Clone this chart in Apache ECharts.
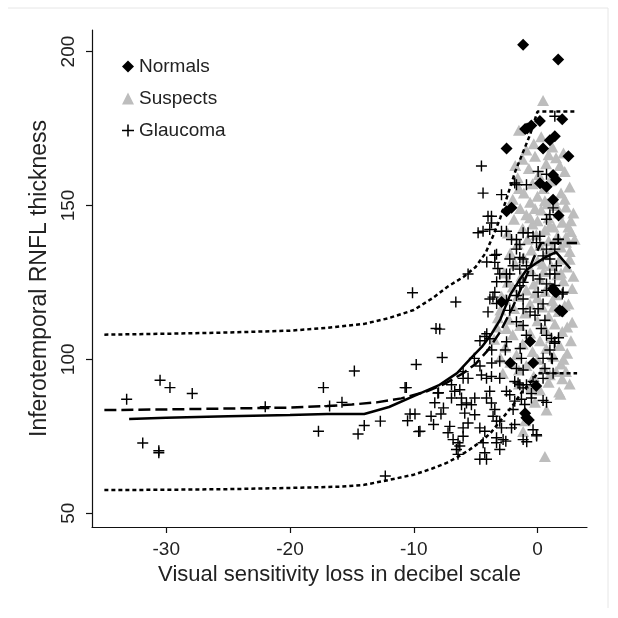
<!DOCTYPE html>
<html>
<head>
<meta charset="utf-8">
<script src="https://cdn.jsdelivr.net/npm/echarts@6/dist/echarts.min.js"></script>
<style>
html,body{margin:0;padding:0;background:#fff;}
#chart{width:618px;height:618px;}
</style>
</head>
<body>
<div id="chart"></div>
<script>
// ---- tick values ----
var xTicks = [-30, -20, -10, 0];
var yTicks = [50, 100, 150, 200];

// ---- Normals (black diamonds) ----
var normals = [[-1.16,202.2],[1.67,197.4],[2.0,178],[0.19,177.4],[-0.84,175],[-0.5,176],[-1.0,174.8],[1.4,172.5],[1.0,171.2],[-2.5,168.5],[0.45,168.5],[2.5,166],[1.26,159.9],[1.5,158.3],[0.2,157.2],[0.73,156.1],[1.26,151.8],[-2.1,149.2],[-2.5,148.1],[1.7,146.7],[-2.9,118.6],[1.8,115.9],[1.5,121.8],[1.25,122.9],[-0.6,105.8],[-2.2,98.8],[-0.35,98.8],[-0.1,91.3],[-0.9,81],[-1.0,82.5],[-0.7,80.3],[2.0,115.5],[1.4,122]];

// ---- Suspects (grey triangles) ----
var suspects = [[0.45,184.1],[-1.5,174.4],[0.3,172.3],[1.2,169],[-0.2,166],[1.5,165.5],[-1.2,165],[0.7,163.5],[-0.7,162],[2.2,161],[0.1,160],[-1.6,159],[1.0,158],[-0.4,157],[0.5,155.5],[-1.1,154],[1.9,154],[0.0,153],[-2.0,152],[1.3,152],[-0.6,151],[0.8,150.5],[2.3,149.5],[-1.4,149],[0.3,148.5],[1.7,147.5],[-0.9,147],[0.9,146],[-1.9,145.5],[0.0,145],[2.0,144.5],[-0.4,144],[1.3,143],[-1.2,142.5],[0.6,142],[2.7,141.5],[-2.4,141],[-0.1,140.5],[1.6,140],[-0.8,139],[0.9,138.5],[2.3,138],[-1.6,137.5],[0.2,137],[1.2,136],[-0.5,135.5],[2.6,135],[-2.2,134.5],[0.7,134],[-1.1,133],[1.8,132.5],[0.0,132],[-1.8,131],[1.1,130.5],[2.4,130],[-0.6,129.5],[0.5,128.5],[-2.7,128],[1.6,127.5],[-1.3,127],[0.2,126],[2.1,125.5],[-0.3,124.5],[1.0,124],[-2.0,123.5],[-0.9,122.5],[0.6,122],[2.8,123],[1.5,121],[-1.6,120.5],[0.0,120],[-2.6,119.5],[1.2,119],[-0.6,118],[2.2,117.5],[0.4,117],[-1.9,116.5],[-3.0,116],[1.7,115.5],[-1.0,115],[0.9,114],[2.8,112],[-2.3,113],[0.0,112.5],[1.4,111.5],[-1.4,111],[-3.3,110.5],[0.6,110],[2.0,109],[-0.6,108.5],[-2.0,108],[1.1,107],[-3.5,106.5],[0.2,106],[-1.2,105],[1.8,104.5],[-2.6,104],[0.7,103.5],[-0.4,102.5],[2.4,102],[-1.7,101.5],[1.3,101],[-3.0,100.5],[0.0,100],[-2.2,99],[1.9,98.5],[-0.9,98],[0.5,97],[-1.5,96.5],[2.3,96],[-2.8,95.5],[1.0,95],[-0.3,94.5],[1.85,88.6],[2.0,93.7],[0.2,90],[1.75,89.4],[0.73,83.5],[-1.16,76.5],[0.6,68.4],[2.7,145],[2.3,139.7],[-1.5,92],[-0.5,91],[0.9,92.5],[-1.0,80],[-0.2,86],[1.3,117],[2.5,118],[-2.4,125],[-2.9,120.5],
[2.9,127],[2.6,132.5],[3.0,139],[2.5,143],[2.9,147.5],[2.2,152],[2.6,156],[1.8,163],[2.1,167],[-0.3,170],[0.9,166.5],[-1.8,163],[-0.9,168],[1.5,150],[-0.2,149],[-1.5,155.5],[0.6,151.5],[2.4,110.5],[2.7,106],[2.1,100],[2.6,92],[1.5,96],[-2.5,110],[-3.2,113.5],[1.0,143.5],[-0.6,146],[1.9,136.5],[0.4,131],[-0.2,121.5],[1.9,128]];

// ---- Glaucoma (crosses) ----
var glaucoma = [[-33.2,87],[-30.5,93.2],[-29.7,90.8],[-27.9,88.9],[-31.9,72.8],[-30.6,70.3],[-30.6,69.6],[-17.3,90.8],[-14.8,96.2],[-17.7,76.6],[-15.8,86],[-16.8,84.8],[-14.0,78.5],[-14.5,75.7],[-12.7,79.9],[-12.3,62.1],[-22.0,84.6],[-10.1,121.6],[-9.8,98.3],[-10.6,90.8],[-10.3,82.2],[-9.9,82.2],[-10.5,80],[-9.6,76.5],[-8.6,81.5],[-8.4,78.8],[-8.2,110],[-6.6,118.6],[-7.9,109.8],[-7.7,100.6],[-5.61,127.7],[-4.53,162.8],[-4.4,154],
[-4.0,115.4],[-3.45,121.8],[-3.85,119.6],[-4.25,107.4],[-4.1,108.3],[-3.85,106.7],[-4.65,106],[-5.1,100.3],[-4.65,97.8],[-3.7,98.8],[-3.05,99.4],[-2.5,105.7],[-3.7,103],[-2.6,103],[-1.7,112.2],[-1.16,111],[-0.9,107.8],[-1.4,103.5],[-1.3,100.3],[-1.7,97],[-1.16,96.5],[-0.6,115.4],[-0.2,114.3],[0.05,116.4],[0.45,118],[0.6,112.7],[0.3,110],[0.73,107.8],[1.13,106.8],[1.4,105.7],[1.0,103],[0.45,100.3],[1.13,100.3],[0.6,97],[1.26,95.5],[0.05,121.8],[0.73,122.4],[2.07,121.8],[1.4,124],[-1.7,120.7],[-1.16,119.6],[-2.24,115.9],[-1.16,116.4],
[-10.7,90.8],[-9.5,76.6],[-7.8,82.2],[-8.3,85.9],[-8.0,89.1],[-7.6,84.2],[-7.09,78.2],[-7.23,76.1],[-6.82,73.9],[-6.42,72.9],[-6.55,70.7],[-6.42,69.1],[-6.28,71.8],[-6.95,87.4],[-6.69,89.6],[-6.28,90.1],[-6.14,87.4],[-6.14,85.2],[-5.74,85.8],[-5.88,82.5],[-5.34,85.2],[-5.07,87.4],[-5.07,82.0],[-5.61,79.3],[-6.01,77.7],[-6.01,75],[-4.66,77.7],[-4.26,76.6],[-4.12,87.4],[-3.86,89.6],[-3.72,85.8],[-3.45,83.7],[-3.59,81.5],[-3.31,79.9],[-3.05,79.9],[-2.91,77.7],[-3.31,74.5],[-3.31,72.9],[-2.78,73.9],[-2.56,73.4],[-3.05,70.7],[-4.39,72.9],[-4.26,69.6],[-4.12,67.5],[-4.66,67.5],[-2.51,89.6],[-2.24,88.5],[-1.84,86.4],[-1.57,92.3],[-1.16,90.7],[-1.3,87.0],[-1.03,85.3],[-0.49,88.9],[-0.49,87.4],[-1.84,78.8],[-2.1,77.7],[-1.16,73.9],[-1.97,83.7],[0.45,86.6],[-0.36,77.1],[-0.08,75.5],[-8.05,89],[-6.95,91.7],[-6.01,93.8],[-5.61,93.8],[-6.01,96],[-4.53,94.9],[-4.12,93.8],[-3.72,94.4],[-3.05,93.8],[-1.84,92.8],[-1.43,91.7],[-0.89,91.7],[-0.36,92.8],[0.45,93.8],
[-2.91,153.5],[-1.7,156.7],[-0.89,156.7],[0.05,161],[-3.72,146.5],[-3.72,144.3],[-3.86,142.2],[-4.4,141.6],[-4.8,141.1],[-2.91,141.6],[-2.51,141.6],[-2.1,138.9],[-1.7,138.9],[-1.43,137.3],[-1.16,141.1],[-0.76,141.1],[-0.36,140],[0.19,140],[-0.08,137.9],[0.73,145.5],[1.0,147],[1.26,149.2],[1.67,138.9],[1.4,135.8],[0.73,135.8],[0.45,133.6],[1.0,132.6],[-1.7,135.8],[-1.43,133.1],[-1.16,132.6],[-2.24,132.6],[-1.97,130.4],[-2.51,127.7],[-2.24,127.7],[-1.43,129.3],[-0.89,130.4],[-0.36,127.2],[0.19,126.1],[1.0,127.7],[1.4,127.7],[1.53,130.4],[-1.16,125],[-1.43,123.9],[-3.31,134.1],[-3.45,131.5],[1.4,179],[-1.84,157.3],[-4.0,146.5],
[0.73,160.1],[1.69,139],[0.73,124.5],[2.0,121.2],[1.37,105.2],[1.7,107],[1.2,100.2],[0.73,86],[-0.07,75.1],[-0.87,73.2],
[-4.1,131.6],[-3.45,133.8],[-3.2,129.5],[-3.05,127.7],[-3.3,125.2],[-2.5,125.2],[-3.6,120.2],[-3.3,118.1],[-2.5,119.2]];

// ---- fitted curves ----
var upperBand = [[-35,108],[-30,108.3],[-25,108.7],[-20,109.3],[-17,110.2],[-14,111.5],[-12,113.4],[-10,116],[-8.5,119.8],[-7.3,123.5],[-6,126.7],[-5,130],[-4.2,134.5],[-3.6,140],[-3,146],[-2.4,153.5],[-1.8,161],[-1.2,167],[-0.6,173],[-0.2,178],[0,180.5],[3.2,180.5]];
var lowerBand = [[-35,57.5],[-30,57.6],[-25,57.8],[-20,58.2],[-16,58.6],[-14,59.2],[-12,60.8],[-10,62.5],[-8.5,64.5],[-7.3,66.4],[-6.3,68.6],[-5.5,70.6],[-4.6,73.2],[-3.8,76],[-2.8,81],[-2,85],[-1.2,89.7],[-0.4,93.2],[0,95.5],[3.2,95.5]];
var dashedFit = [[-35,83.5],[-30,83.7],[-25,84],[-20,84.3],[-17,84.8],[-15,85.3],[-13,86],[-11,87.3],[-9,89.5],[-7.5,92],[-6,95.5],[-5,98.5],[-4,103],[-3,109],[-2,117],[-1,126],[-0.3,133],[0.3,137.8],[3.2,137.8]];
var solidFit = [[-33,80.6],[-30,81],[-25,81.5],[-20,81.9],[-17,82.2],[-14,82.2],[-12,84.5],[-10,88],[-8,91.5],[-6.5,95.5],[-5.3,100.7],[-4.5,104],[-3.8,107.7],[-3,113],[-2.2,121],[-1.5,125.5],[-0.9,129],[0,131.5],[0.7,133.3],[1.5,134.8],[2.65,129.5]];

var FONT = '"Liberation Sans", Arial, sans-serif';
var TXT = '#222';
var AX = '#111';
var crossPath = 'path://M4.35,0h1.3v10h-1.3z M0,4.35h10v1.3h-10z';

var chart = echarts.init(document.getElementById('chart'));
chart.setOption({
  animation: false,
  backgroundColor: '#fff',
  textStyle: {fontFamily: FONT},
  graphic: [{
    type: 'polyline', silent: true,
    shape: {points: [[8,8],[608,8],[608,608]]},
    style: {stroke: '#e6e6e6', lineWidth: 1, fill: null}
  }],
  legend: {
    orient: 'vertical', left: 117, top: 52,
    itemWidth: 12, itemHeight: 12, itemGap: 13,
    textStyle: {fontSize: 19, color: TXT, fontFamily: FONT},
    data: [
      {name: 'Normals', icon: 'diamond', itemStyle: {color: '#000'}},
      {name: 'Suspects', icon: 'triangle', itemStyle: {color: '#bdbdbd'}},
      {name: 'Glaucoma', icon: crossPath, itemStyle: {color: '#000'}}
    ]
  },
  grid: {left: 92, top: 30, width: 495, height: 497},
  xAxis: {
    type: 'value', min: -36, max: 4,
    axisLine: {show: true, onZero: false, lineStyle: {color: AX, width: 1.2}},
    axisTick: {show: true, customValues: xTicks, length: 6, lineStyle: {color: AX, width: 1.2}},
    axisLabel: {customValues: xTicks, fontSize: 19, color: TXT, margin: 13, fontFamily: FONT},
    splitLine: {show: false},
    name: 'Visual sensitivity loss in decibel scale',
    nameLocation: 'middle', nameGap: 35,
    nameTextStyle: {fontSize: 22, color: TXT, fontFamily: FONT}
  },
  yAxis: {
    type: 'value', min: 45.5, max: 207,
    axisLine: {show: true, onZero: false, lineStyle: {color: AX, width: 1.2}},
    axisTick: {show: true, customValues: yTicks, length: 6, lineStyle: {color: AX, width: 1.2}},
    axisLabel: {customValues: yTicks, rotate: 90, fontSize: 19, color: TXT, margin: 14, fontFamily: FONT},
    splitLine: {show: false},
    name: 'Inferotemporal RNFL thickness',
    nameLocation: 'middle', nameGap: 37,
    nameTextStyle: {fontSize: 23, color: TXT, fontFamily: FONT}
  },
  series: [
    {name: 'Suspects', type: 'scatter', data: suspects, symbol: 'triangle', symbolSize: [12, 11],
     itemStyle: {color: '#bdbdbd', opacity: 1}, z: 2, silent: true},
    {name: 'Glaucoma', type: 'scatter', data: glaucoma, symbol: crossPath, symbolSize: 11,
     itemStyle: {color: '#000', opacity: 1}, z: 3, silent: true},
    {name: 'Normals', type: 'scatter', data: normals, symbol: 'diamond', symbolSize: 12,
     itemStyle: {color: '#000', opacity: 1}, z: 4, silent: true},
    {type: 'line', data: upperBand, showSymbol: false, silent: true, z: 5,
     lineStyle: {color: '#000', width: 2.5, type: [4, 3]}},
    {type: 'line', data: lowerBand, showSymbol: false, silent: true, z: 5,
     lineStyle: {color: '#000', width: 2.5, type: [4, 3]}},
    {type: 'line', data: dashedFit, showSymbol: false, silent: true, z: 5,
     lineStyle: {color: '#000', width: 2.5, type: [12, 5]}},
    {type: 'line', data: solidFit, showSymbol: false, silent: true, z: 5,
     lineStyle: {color: '#000', width: 2.5, type: 'solid'}}
  ]
});
</script>
</body>
</html>
